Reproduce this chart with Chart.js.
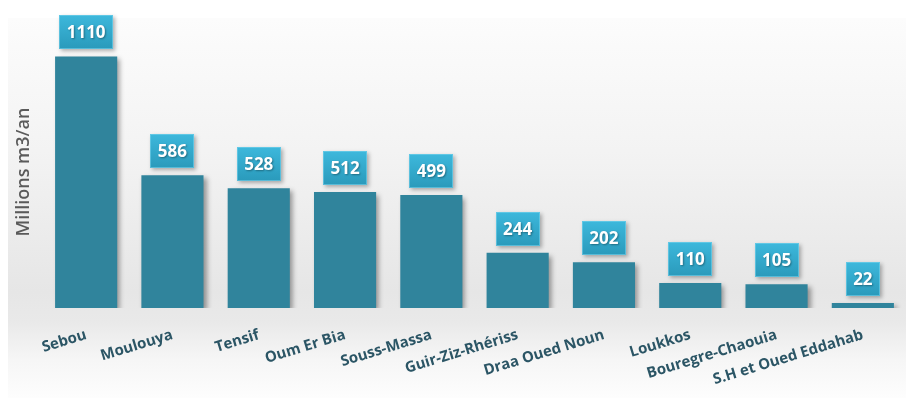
<!DOCTYPE html>
<html>
<head>
<meta charset="utf-8">
<script src="https://cdn.jsdelivr.net/npm/chart.js@4"></script>
<style>
    html, body {
        margin: 0;
        padding: 0;
        background: #ffffff;
    }
    #wrap {
        position: relative;
        width: 906px;
        height: 398px;
    }
    #panel {
        position: absolute;
        left: 8px;
        top: 18px;
        right: 0;
        bottom: 0;
        background: linear-gradient(
            to bottom,
            #fcfcfc 0%,
            #f3f3f3 35%,
            #e6e6e6 72%,
            #e9e9e9 80%,
            #f6f6f6 90%,
            #fdfdfd 100%
        );
    }
    #chart {
        position: absolute;
        left: 0;
        top: 0;
    }
</style>
</head>
<body>
<div id="wrap">
    <div id="panel"></div>
    <canvas id="chart" width="906" height="398"></canvas>
</div>
<script>
    const basins = [
        "Sebou",
        "Moulouya",
        "Tensif",
        "Oum Er Bia",
        "Souss-Massa",
        "Guir-Ziz-Rhériss",
        "Draa Oued Noun",
        "Loukkos",
        "Bouregre-Chaouia",
        "S.H et Oued Eddahab",
    ];
    const volumes = [1110, 586, 528, 512, 499, 244, 202, 110, 105, 22];

    const FONT = "'Open Sans', 'DejaVu Sans', sans-serif";

    // soft drop shadow under the bars
    const barShadow = {
        id: "barShadow",
        beforeDatasetsDraw(chart) {
            const ctx = chart.ctx;
            ctx.save();
            ctx.shadowColor = "rgba(0, 0, 0, 0.38)";
            ctx.shadowBlur = 5;
            ctx.shadowOffsetX = 3;
            ctx.shadowOffsetY = 3;
        },
        afterDatasetsDraw(chart) {
            chart.ctx.restore();
        },
    };

    // value tags sitting above each bar
    const valueTags = {
        id: "valueTags",
        afterDatasetsDraw(chart) {
            const ctx = chart.ctx;
            const meta = chart.getDatasetMeta(0);
            const values = chart.data.datasets[0].data;
            ctx.save();
            ctx.font = "bold 17px " + FONT;
            meta.data.forEach((bar, i) => {
                const text = String(values[i]);
                const w = Math.round(ctx.measureText(text).width) + 15;
                const h = 34;
                const x = Math.round(bar.x - w / 2);
                const y = Math.round(bar.y - 7 - h);

                const grad = ctx.createLinearGradient(0, y, 0, y + h);
                grad.addColorStop(0, "#3db8dc");
                grad.addColorStop(1, "#2a9abb");

                ctx.save();
                ctx.shadowColor = "rgba(0, 0, 0, 0.3)";
                ctx.shadowBlur = 4;
                ctx.shadowOffsetX = 2;
                ctx.shadowOffsetY = 2;
                ctx.fillStyle = grad;
                ctx.fillRect(x, y, w, h);
                ctx.restore();

                ctx.strokeStyle = "rgba(120, 210, 235, 0.6)";
                ctx.lineWidth = 1;
                ctx.strokeRect(x + 0.5, y + 0.5, w - 1, h - 1);

                ctx.save();
                ctx.shadowColor = "rgba(0, 0, 0, 0.35)";
                ctx.shadowBlur = 2;
                ctx.shadowOffsetX = 1;
                ctx.shadowOffsetY = 1;
                ctx.fillStyle = "#ffffff";
                ctx.textAlign = "center";
                ctx.textBaseline = "middle";
                ctx.fillText(text, bar.x, y + h / 2 + 1);
                ctx.restore();
            });
            ctx.restore();
        },
    };

    new Chart(document.getElementById("chart"), {
        type: "bar",
        data: {
            labels: basins,
            datasets: [
                {
                    data: volumes,
                    backgroundColor: "#30849c",
                    borderWidth: 0,
                    barPercentage: 0.72,
                    categoryPercentage: 1,
                },
            ],
        },
        options: {
            responsive: false,
            animation: false,
            layout: {
                padding: { top: 36, right: 0, left: 0, bottom: 0 },
            },
            plugins: {
                legend: { display: false },
                tooltip: { enabled: false },
            },
            scales: {
                x: {
                    grid: { display: false, drawTicks: false },
                    border: { display: false },
                    ticks: {
                        autoSkip: false,
                        minRotation: 17,
                        maxRotation: 17,
                        padding: 18,
                        color: "#2b5565",
                        font: { family: FONT, size: 15, weight: "bold" },
                    },
                    afterFit(scale) {
                        scale.height = 90;
                    },
                },
                y: {
                    min: 0,
                    max: 1200,
                    grid: { display: false, drawTicks: false },
                    border: { display: false },
                    ticks: { display: false },
                    title: {
                        display: true,
                        text: "Millions m3/an",
                        color: "#5a5a5a",
                        font: { family: FONT, size: 18, weight: "600" },
                        padding: { top: 13, bottom: 0 },
                    },
                    afterFit(scale) {
                        scale.width = 43;
                    },
                },
            },
        },
        plugins: [barShadow, valueTags],
    });
</script>
</body>
</html>
